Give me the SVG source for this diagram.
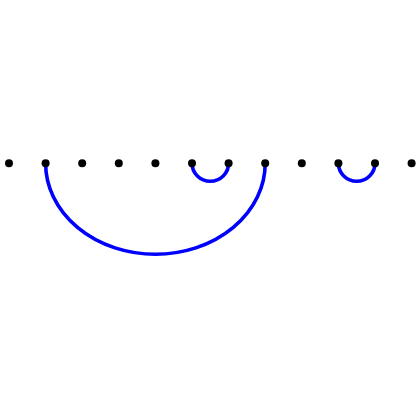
<svg xmlns="http://www.w3.org/2000/svg" width="420" height="420" viewBox="0 0 420 420">
<style>
.dot{fill:#000}
.arc{fill:none;stroke:#0000ff;stroke-width:3.6}
</style>
<rect width="420" height="420" fill="#fff"/>
<g id="connectors">
<path class="arc" d="M45.6,163.3 A109.8,91 0 0 0 265.2,163.3"/>
<path class="arc" d="M192,163.3 A18.3,18 0 0 0 228.6,163.3"/>
<path class="arc" d="M338.4,163.3 A18.3,18 0 0 0 375,163.3"/>
</g>
<g id="n0"><circle class="dot" cx="9" cy="163.3" r="4"/></g>
<g id="n1"><circle class="dot" cx="45.6" cy="163.3" r="4"/></g>
<g id="n2"><circle class="dot" cx="82.2" cy="163.3" r="4"/></g>
<g id="n3"><circle class="dot" cx="118.8" cy="163.3" r="4"/></g>
<g id="n4"><circle class="dot" cx="155.4" cy="163.3" r="4"/></g>
<g id="n5"><circle class="dot" cx="192" cy="163.3" r="4"/></g>
<g id="n6"><circle class="dot" cx="228.6" cy="163.3" r="4"/></g>
<g id="n7"><circle class="dot" cx="265.2" cy="163.3" r="4"/></g>
<g id="n8"><circle class="dot" cx="301.8" cy="163.3" r="4"/></g>
<g id="n9"><circle class="dot" cx="338.4" cy="163.3" r="4"/></g>
<g id="n10"><circle class="dot" cx="375" cy="163.3" r="4"/></g>
<g id="n11"><circle class="dot" cx="411.6" cy="163.3" r="4"/></g>
</svg>
